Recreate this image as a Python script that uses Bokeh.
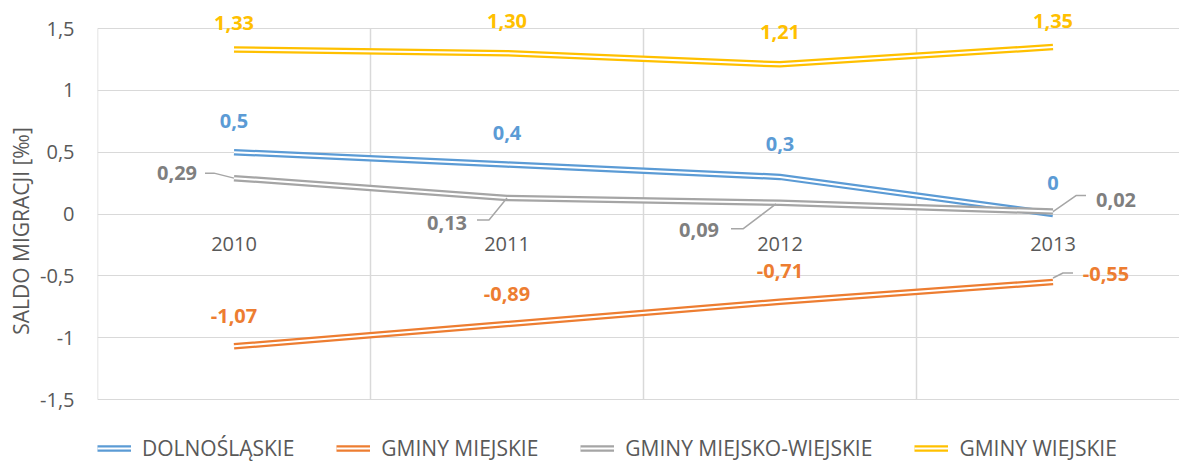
from bokeh.plotting import figure
from bokeh.models import FixedTicker, Legend, LegendItem, Range1d
from bokeh.embed import file_html
from bokeh.resources import INLINE
from bokeh.core.properties import value

# ---------------- data ----------------
years = ["2010", "2011", "2012", "2013"]
series_names = ["DOLNOŚLĄSKIE", "GMINY MIEJSKIE", "GMINY MIEJSKO-WIEJSKIE", "GMINY WIEJSKIE"]
dolnoslaskie = [0.5, 0.4, 0.3, 0.0]
gminy_miejskie = [-1.07, -0.89, -0.71, -0.55]
gminy_miejsko_wiejskie = [0.29, 0.13, 0.09, 0.02]
gminy_wiejskie = [1.33, 1.30, 1.21, 1.35]
labels_dolnoslaskie = ["0,5", "0,4", "0,3", "0"]
labels_miejskie = ["-1,07", "-0,89", "-0,71", "-0,55"]
labels_miejsko_wiejskie = ["0,29", "0,13", "0,09", "0,02"]
labels_wiejskie = ["1,33", "1,30", "1,21", "1,35"]
y_ticks = [-1.5, -1, -0.5, 0, 0.5, 1, 1.5]
y_tick_labels = ["-1,5", "-1", "-0,5", "0", "0,5", "1", "1,5"]
y_title = "SALDO MIGRACJI [‰]"

# ---------------- styles ----------------
FONT = "Open Sans"
TXT = "#595959"
GRID = "#D9D9D9"
line_colors = ["#5B9BD5", "#ED7D31", "#A5A5A5", "#FFC000"]
label_colors = ["#5B9BD5", "#ED7D31", "#7F7F7F", "#FFC000"]
# label offsets in screen px (dx right, dy down) relative to the data point
label_dx = [[0, 0, 0, 0], [0, 0, 0, 53], [-57, -60, -81, 63], [0, 0, 0, 0]]
label_dy = [[-31, -32, -33, -31], [-30, -30, -31, -8], [-5, 25, 27, -12], [-27, -32, -32, -26]]
# leader lines: (series, point index, list of px offsets)
leaders = [
    (2, 0, [(0, 0), (-20, -5), (-29, -5)]),
    (2, 1, [(0, 0), (-18, 22), (-30, 22)]),
    (2, 2, [(-4, 1), (-37, 26), (-49, 26)]),
    (2, 3, [(0, 0), (23, -16), (33, -16)]),
    (1, 3, [(0, -4), (10, -9), (20, -9)]),
]

W, H = 1179, 461
LEFT = 97
BAND_TOP = 28         # px from figure top to the 1.5 line
PLOT_H = 371          # height of the -1.5..1.5 band in px
frame_w = W - LEFT
px_per_cat = 273.0
x_start = -0.5
x_end = x_start + frame_w / px_per_cat
px_per_unit = PLOT_H / 3.0
y_end = 1.5 + BAND_TOP / px_per_unit
y_start = -1.5 - (H - BAND_TOP - PLOT_H) / px_per_unit

p = figure(width=W, height=H, output_backend="svg", toolbar_location=None,
           x_range=Range1d(x_start, x_end), y_range=Range1d(y_start, y_end),
           min_border_left=LEFT, min_border_right=0, min_border_top=0,
           min_border_bottom=0)
p.outline_line_color = None
p.background_fill_color = "white"
p.border_fill_color = "white"

p.xaxis.visible = False
p.xgrid.visible = False
p.ygrid.ticker = FixedTicker(ticks=y_ticks)
p.ygrid.grid_line_color = GRID

# vertical grid lines between categories, limited to the value band
cat_bounds = [-0.5, 0.5, 1.5, 2.5, 3.5]
p.segment(x0=cat_bounds, y0=[y_ticks[0]] * len(cat_bounds), x1=cat_bounds,
          y1=[y_ticks[-1]] * len(cat_bounds), line_color=GRID, line_width=1.5)

yax = p.yaxis[0]
yax.ticker = FixedTicker(ticks=y_ticks)
yax.major_label_overrides = {t: l for t, l in zip(y_ticks, y_tick_labels)}
yax.axis_line_color = None
yax.major_tick_line_color = None
yax.minor_tick_line_color = None
yax.major_tick_out = 0
yax.major_tick_in = 0
yax.major_label_standoff = 23
yax.major_label_text_font = FONT
yax.major_label_text_font_size = "20px"
yax.major_label_text_color = TXT
yax.axis_label = y_title
yax.axis_label_text_font = FONT
yax.axis_label_text_font_size = "21px"
yax.axis_label_text_font_style = "normal"
yax.axis_label_text_color = TXT
yax.axis_label_standoff = 2

xs = list(range(len(years)))
all_series = [dolnoslaskie, gminy_miejskie, gminy_miejsko_wiejskie, gminy_wiejskie]
all_labels = [labels_dolnoslaskie, labels_miejskie, labels_miejsko_wiejskie, labels_wiejskie]

# category labels along the zero line
p.text(x=xs, y=[0] * len(xs), text=years, y_offset=30, text_align="center",
       text_baseline="middle", text_font=value(FONT), text_font_size="20px",
       text_color=TXT)

items = []
for name, vals, col in zip(series_names, all_series, line_colors):
    outer = p.line(xs, vals, line_color=col, line_width=6.5, line_cap="butt", line_join="miter")
    inner = p.line(xs, vals, line_color="white", line_width=2, line_cap="butt", line_join="miter")
    items.append(LegendItem(label=name, renderers=[outer, inner]))

# leader lines
for si, pi, offs in leaders:
    lx = [xs[pi] + dx / px_per_cat for dx, dy in offs]
    ly = [all_series[si][pi] - dy / px_per_unit for dx, dy in offs]
    p.line(lx, ly, line_color="#A6A6A6", line_width=1.5)

# data labels
for vals, labs, col, dxs, dys in zip(all_series, all_labels, label_colors, label_dx, label_dy):
    p.text(x=xs, y=vals, text=labs, x_offset=dxs, y_offset=dys, text_align="center",
           text_baseline="middle", text_font=value(FONT), text_font_style="bold",
           text_font_size="20px", text_color=col)

legend = Legend(items=items, location=(0, -1), orientation="horizontal",
                glyph_width=34, glyph_height=20, label_height=20, label_standoff=11,
                spacing=42, padding=0, margin=0, border_line_color=None,
                background_fill_alpha=0, label_text_font=FONT,
                label_text_font_size="21px", label_text_color=TXT)
p.add_layout(legend)

open("out.html", "w").write(file_html(p, INLINE))
